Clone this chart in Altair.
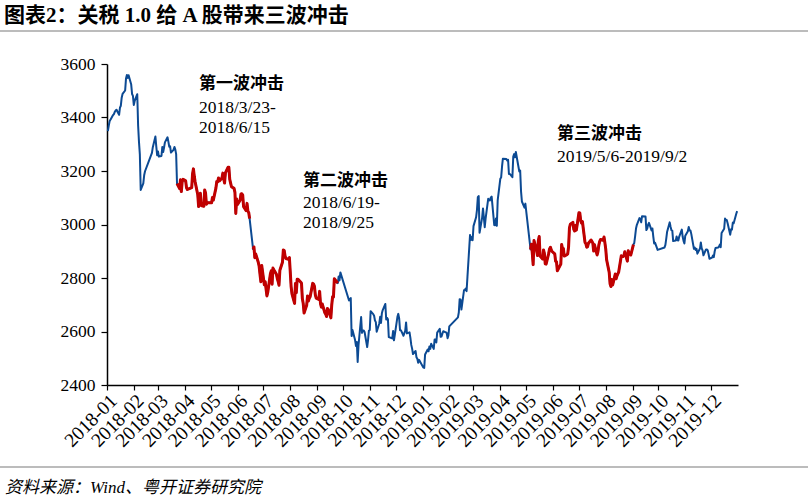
import altair as alt
import pandas as pd

# ---------------- data (Shanghai Composite, daily close) ----------------
dates_2018 = [
    "01-02","01-03","01-04","01-05","01-08","01-09","01-10","01-11","01-12","01-15","01-16","01-17","01-18","01-19","01-22","01-23","01-24","01-25","01-26","01-29","01-30","01-31",
    "02-01","02-02","02-05","02-06","02-07","02-08","02-09","02-12","02-13","02-14","02-22","02-23","02-26","02-27","02-28",
    "03-01","03-02","03-05","03-06","03-07","03-08","03-09","03-12","03-13","03-14","03-15","03-16","03-19","03-20","03-21","03-22","03-23","03-26","03-27","03-28","03-29","03-30",
    "04-02","04-03","04-04","04-09","04-10","04-11","04-12","04-13","04-16","04-17","04-18","04-19","04-20","04-23","04-24","04-25","04-26","04-27",
    "05-02","05-03","05-04","05-07","05-08","05-09","05-10","05-11","05-14","05-15","05-16","05-17","05-18","05-21","05-22","05-23","05-24","05-25","05-28","05-29","05-30","05-31",
    "06-01","06-04","06-05","06-06","06-07","06-08","06-11","06-12","06-13","06-14","06-15","06-19","06-20","06-21","06-22","06-25","06-26","06-27","06-28","06-29",
    "07-02","07-03","07-04","07-05","07-06","07-09","07-10","07-11","07-12","07-13","07-16","07-17","07-18","07-19","07-20","07-23","07-24","07-25","07-26","07-27","07-30","07-31",
    "08-01","08-02","08-03","08-06","08-07","08-08","08-09","08-10","08-13","08-14","08-15","08-16","08-17","08-20","08-21","08-22","08-23","08-24","08-27","08-28","08-29","08-30","08-31",
    "09-03","09-04","09-05","09-06","09-07","09-10","09-11","09-12","09-13","09-14","09-17","09-18","09-19","09-20","09-21","09-25","09-26","09-27","09-28",
    "10-08","10-09","10-10","10-11","10-12","10-15","10-16","10-17","10-18","10-19","10-22","10-23","10-24","10-25","10-26","10-29","10-30","10-31",
    "11-01","11-02","11-05","11-06","11-07","11-08","11-09","11-12","11-13","11-14","11-15","11-16","11-19","11-20","11-21","11-22","11-23","11-26","11-27","11-28","11-29","11-30",
    "12-03","12-04","12-05","12-06","12-07","12-10","12-11","12-12","12-13","12-14","12-17","12-18","12-19","12-20","12-21","12-24","12-25","12-26","12-27","12-28",
]
close_2018 = [
    3349,3369,3386,3392,3409,3413,3421,3426,3429,3410,3437,3444,3474,3488,3501,3546,3559,3548,3558,3523,3488,3481,
    3447,3462,3487,3370,3309,3262,3129,3154,3184,3199,3268,3289,3329,3292,3259,
    3273,3254,3256,3290,3271,3288,3307,3326,3310,3291,3292,3269,3279,3290,3281,3263,3153,3134,3167,3123,3161,3169,
    3163,3137,3131,3138,3190,3208,3180,3159,3111,3067,3091,3117,3071,3068,3129,3118,3076,3082,
    3081,3101,3091,3136,3161,3159,3174,3163,3174,3192,3170,3155,3193,3214,3214,3169,3155,3141,3135,3120,3041,3095,
    3075,3091,3114,3115,3110,3067,3052,3079,3050,3044,3022,2908,2916,2876,2890,2859,2844,2814,2786,2847,
    2775,2786,2760,2733,2747,2815,2827,2777,2837,2831,2814,2798,2787,2773,2829,2859,2905,2903,2882,2873,2870,2876,
    2824,2768,2741,2705,2779,2745,2795,2795,2785,2781,2723,2705,2669,2698,2733,2714,2724,2730,2780,2777,2769,2737,2725,
    2720,2750,2704,2691,2703,2670,2665,2656,2686,2682,2651,2699,2730,2729,2797,2781,2806,2791,2821,
    2716,2721,2725,2583,2606,2568,2546,2561,2486,2550,2654,2595,2603,2604,2598,2542,2568,2603,
    2606,2676,2665,2659,2641,2635,2599,2630,2655,2632,2668,2680,2703,2645,2651,2646,2579,2576,2574,2602,2567,2588,
    2655,2666,2649,2605,2605,2584,2594,2602,2634,2593,2597,2576,2550,2536,2516,2527,2504,2498,2483,2494,
]
dates_2019 = [
    "01-02","01-03","01-04","01-07","01-08","01-09","01-10","01-11","01-14","01-15","01-16","01-17","01-18","01-21","01-22","01-23","01-24","01-25","01-28","01-29","01-30","01-31",
    "02-01","02-11","02-12","02-13","02-14","02-15","02-18","02-19","02-20","02-21","02-22","02-25","02-26","02-27","02-28",
    "03-01","03-04","03-05","03-06","03-07","03-08","03-11","03-12","03-13","03-14","03-15","03-18","03-19","03-20","03-21","03-22","03-25","03-26","03-27","03-28","03-29",
    "04-01","04-02","04-03","04-04","04-08","04-09","04-10","04-11","04-12","04-15","04-16","04-17","04-18","04-19","04-22","04-23","04-24","04-25","04-26","04-29","04-30",
    "05-06","05-07","05-08","05-09","05-10","05-13","05-14","05-15","05-16","05-17","05-20","05-21","05-22","05-23","05-24","05-27","05-28","05-29","05-30","05-31",
    "06-03","06-04","06-05","06-06","06-10","06-11","06-12","06-13","06-14","06-17","06-18","06-19","06-20","06-21","06-24","06-25","06-26","06-27","06-28",
    "07-01","07-02","07-03","07-04","07-05","07-08","07-09","07-10","07-11","07-12","07-15","07-16","07-17","07-18","07-19","07-22","07-23","07-24","07-25","07-26","07-29","07-30","07-31",
    "08-01","08-02","08-05","08-06","08-07","08-08","08-09","08-12","08-13","08-14","08-15","08-16","08-19","08-20","08-21","08-22","08-23","08-26","08-27","08-28","08-29","08-30",
    "09-02","09-03","09-04","09-05","09-06","09-09","09-10","09-11","09-12","09-16","09-17","09-18","09-19","09-20","09-23","09-24","09-25","09-26","09-27","09-30",
    "10-08","10-09","10-10","10-11","10-14","10-15","10-16","10-17","10-18","10-21","10-22","10-23","10-24","10-25","10-28","10-29","10-30","10-31",
    "11-01","11-04","11-05","11-06","11-07","11-08","11-11","11-12","11-13","11-14","11-15","11-18","11-19","11-20","11-21","11-22","11-25","11-26","11-27","11-28","11-29",
    "12-02","12-03","12-04","12-05","12-06","12-09","12-10","12-11","12-12","12-13","12-16","12-17","12-18","12-19","12-20","12-23","12-24","12-25","12-26","12-27","12-30","12-31",
]
close_2019 = [
    2465,2464,2514,2533,2526,2544,2535,2554,2535,2570,2570,2559,2596,2610,2580,2581,2592,2601,2597,2594,2575,2585,
    2619,2653,2671,2721,2719,2682,2754,2755,2761,2751,2804,2961,2942,2953,2941,
    2994,3027,3054,3102,3106,2969,3026,3060,3026,2990,3022,3096,3091,3090,3101,3104,2998,2997,3022,2995,3091,
    3171,3176,3216,3246,3245,3239,3242,3189,3189,3177,3254,3263,3251,3271,3216,3198,3202,3124,3086,3063,3078,
    2907,2926,2894,2850,2940,2903,2884,2939,2955,2882,2871,2905,2892,2853,2852,2892,2909,2915,2905,2899,
    2890,2862,2861,2827,2852,2925,2909,2910,2882,2887,2890,2917,2987,3001,3008,2982,2976,2996,2979,
    3044,3043,3015,3005,3011,2933,2928,2915,2917,2930,2942,2937,2931,2901,2924,2886,2899,2923,2937,2944,2941,2953,2932,
    2908,2868,2821,2778,2768,2794,2774,2815,2797,2808,2815,2823,2883,2880,2880,2884,2898,2863,2902,2893,2890,2886,
    2925,2931,2957,2985,2999,3024,3021,3008,3031,3030,2979,2985,2999,3006,2978,2985,2955,2929,2932,2905,
    2914,2924,2947,2973,3008,2992,2978,2977,2938,2940,2955,2941,2940,2955,2981,2954,2939,2929,
    2958,2975,2991,2978,2978,2964,2909,2914,2905,2909,2891,2910,2933,2911,2903,2885,2907,2907,2903,2889,2872,
    2876,2884,2878,2899,2912,2914,2917,2925,2915,2968,2984,3022,3017,3017,3005,2962,2982,2981,3007,3005,3040,3050,
]

wave_names = ["第一波冲击", "第二波冲击", "第三波冲击"]
wave_starts = ["2018-03-23", "2018-06-19", "2019-05-06"]
wave_ends = ["2018-06-15", "2018-09-25", "2019-09-02"]
wave_labels = ["2018/3/23-\n2018/6/15", "2018/6/19-\n2018/9/25", "2019/5/6-2019/9/2"]

month_ticks = [f"{2018 + i // 12}-{i % 12 + 1:02d}-01" for i in range(24)]
y_ticks = [2400, 2600, 2800, 3000, 3200, 3400, 3600]

# ---------------- build table ----------------
dates = [f"2018-{d}" for d in dates_2018] + [f"2019-{d}" for d in dates_2019]
closes = close_2018 + close_2019
df = pd.DataFrame({"date": dates, "close": closes})


def wave_of(d):
    for n, s, e in zip(wave_names, wave_starts, wave_ends):
        if s <= d <= e:
            return n
    return ""


df["wave"] = df["date"].map(wave_of)


def ms(s):
    return int(pd.Timestamp(s, tz="UTC").value // 10**6)


tick_ms = [ms(s) for s in month_ticks]

# ---------------- layout ----------------
PL, PT, W, H = 107, 64, 631, 321
PR = 810 - PL - W
PB = 500 - PT - H
SERIF = "Liberation Serif, Times New Roman, Noto Sans CJK SC"
CJK = "Liberation Serif, Noto Sans CJK SC"

x_axis = alt.Axis(
    values=tick_ms,
    format="%Y-%m",
    labelAngle=-45,
    labelFontSize=19.5,
    labelFont=SERIF,
    labelColor="black",
    labelPadding=1,
    tickSize=5,
    tickColor="black",
    domainColor="black",
    domainWidth=1.5,
    tickWidth=1.2,
    grid=False,
    title=None,
    labelOverlap=False,
    labelBound=False,
    labelFlush=False,
    labelSeparation=0,
)
y_axis = alt.Axis(
    values=y_ticks,
    format="d",
    labelFontSize=17.5,
    labelFont=SERIF,
    labelColor="black",
    labelPadding=6,
    tickSize=6,
    tickColor="black",
    domainColor="black",
    domainWidth=1.5,
    tickWidth=1.2,
    grid=False,
    title=None,
)
x_enc = alt.X("date:T", scale=alt.Scale(type="utc", domain=[ms("2018-01-01"), ms("2020-01-01")]), axis=x_axis)
y_enc = alt.Y("close:Q", scale=alt.Scale(domain=[2400, 3600], nice=False, zero=False), axis=y_axis)

base = alt.Chart(df).encode(x=x_enc, y=y_enc)
blue = base.mark_line(color="#0C4A93", strokeWidth=2, strokeJoin="round")
red = base.transform_filter("datum.wave != ''").mark_line(
    color="#C00000", strokeWidth=3, strokeJoin="round"
).encode(detail="wave:N")

one = alt.Data(values=[{"a": 1}])


def txt(s, px, py, size, weight="normal", style="normal", font=CJK, align="left"):
    return alt.Chart(one).mark_text(
        text=s, fontSize=size, fontWeight=weight, fontStyle=style, font=font,
        align=align, baseline="middle", color="black",
    ).encode(x=alt.value(px - PL), y=alt.value(py - PT))


def hline(py, x0, x1, color="#a6a6a6", w=1.5):
    return alt.Chart(one).mark_rule(color=color, strokeWidth=w).encode(
        x=alt.value(x0 - PL), x2=alt.value(x1 - PL), y=alt.value(py - PT)
    )


layers = [blue, red,
          txt("图表2：关税 1.0 给 A 股带来三波冲击", 4, 16, 21, weight="bold"),
          hline(31, 0, 808),
          hline(467, 0, 808),
          txt("资料来源：Wind、粤开证券研究院", 5, 488, 17, style="italic")]

ann_pos = [(199, 84, [108, 128]), (303, 181, [203, 223]), (557, 134, [157])]
for name, lab, (px, py, lys) in zip(wave_names, wave_labels, ann_pos):
    layers.append(txt(name, px, py, 17, weight="bold"))
    for line, ly in zip(lab.split("\n"), lys):
        layers.append(txt(line, px, ly, 17.5, font=SERIF))

chart = alt.layer(*layers).properties(
    width=W, height=H,
    autosize=alt.AutoSizeParams(type="none"),
    padding={"left": PL, "top": PT, "right": PR, "bottom": PB},
    background="white",
).configure_view(stroke=None)

chart.save("out.html", embed_options={"renderer": "svg", "actions": False})
